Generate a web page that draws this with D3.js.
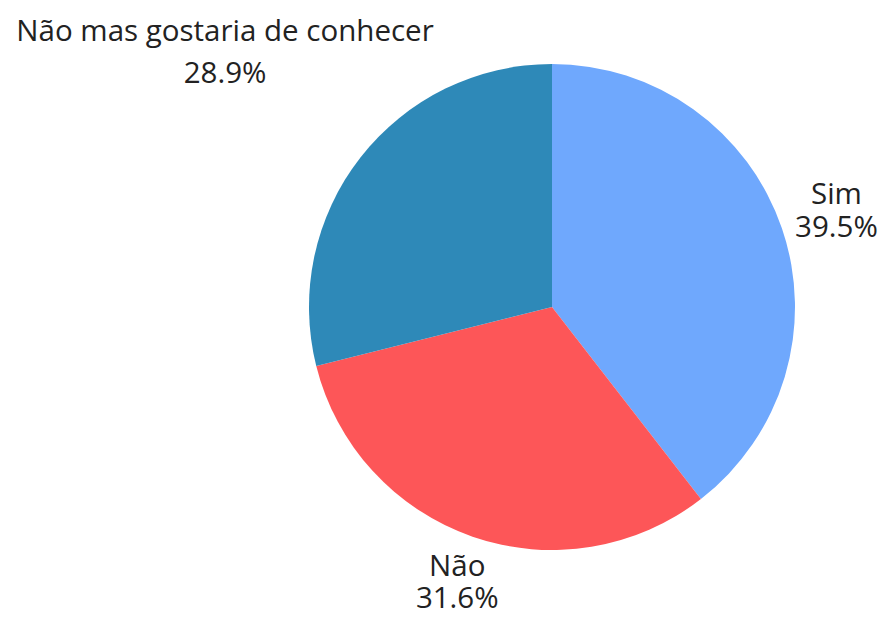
<!DOCTYPE html>
<html>
<head>
<meta charset="utf-8">
<script src="https://cdn.jsdelivr.net/npm/d3@7"></script>
<style>
  html, body { margin: 0; padding: 0; background: #fff; }
  svg { display: block; }
  text { font-family: "Open Sans", sans-serif; fill: #222; }
</style>
</head>
<body>
<script>
const categories = ["Sim", "Não", "Não mas gostaria de conhecer"];
const values = [39.5, 31.6, 28.9];
const percentLabels = ["39.5%", "31.6%", "28.9%"];
const colors = ["#6fa8fd", "#fd5658", "#2e89b8"];

const W = 886, H = 617;
const cx = 552, cy = 307, R = 243;
const fontSize = 29.5;
const lineGaps = [33, 32, 42];
const pad = 10;

const svg = d3.select("body").append("svg").attr("width", W).attr("height", H);

const pie = d3.pie().sort(null).value(d => d.v).startAngle(0).endAngle(2 * Math.PI);
const data = pie(values.map((v, i) => ({ v, i })));
const arc = d3.arc().innerRadius(0).outerRadius(R);

const g = svg.append("g").attr("transform", `translate(${cx},${cy})`);
g.selectAll("path").data(data).join("path")
  .attr("d", arc)
  .attr("fill", d => colors[d.data.i]);

data.forEach(d => {
  const i = d.data.i;
  const mid = (d.startAngle + d.endAngle) / 2;
  const dx = Math.sin(mid), dy = -Math.cos(mid);
  const lg = g.append("g");
  const txt = lg.append("text").attr("text-anchor", "middle").attr("font-size", fontSize);
  txt.append("tspan").attr("x", 0).attr("y", 0).text(categories[i]);
  txt.append("tspan").attr("x", 0).attr("dy", lineGaps[i]).text(percentLabels[i]);
  // visual box: from cap top of first line to baseline of second line
  const bb = lg.node().getBBox();
  const top = -fontSize * 0.72, bottom = lineGaps[i];
  const hw = bb.width / 2, hh = (bottom - top) / 2;
  const ox = bb.x + hw, oy = (top + bottom) / 2;
  function nearestDist(t) {
    const bx = dx * t, by = dy * t;
    const nx = Math.max(bx - hw, Math.min(0, bx + hw));
    const ny = Math.max(by - hh, Math.min(0, by + hh));
    return Math.hypot(nx, ny);
  }
  let lo = 0, hi = 1000;
  for (let k = 0; k < 60; k++) {
    const m = (lo + hi) / 2;
    if (nearestDist(m) < R + pad) lo = m; else hi = m;
  }
  const t = hi;
  lg.attr("transform", `translate(${dx * t - ox},${dy * t - oy})`);
});
</script>
</body>
</html>
